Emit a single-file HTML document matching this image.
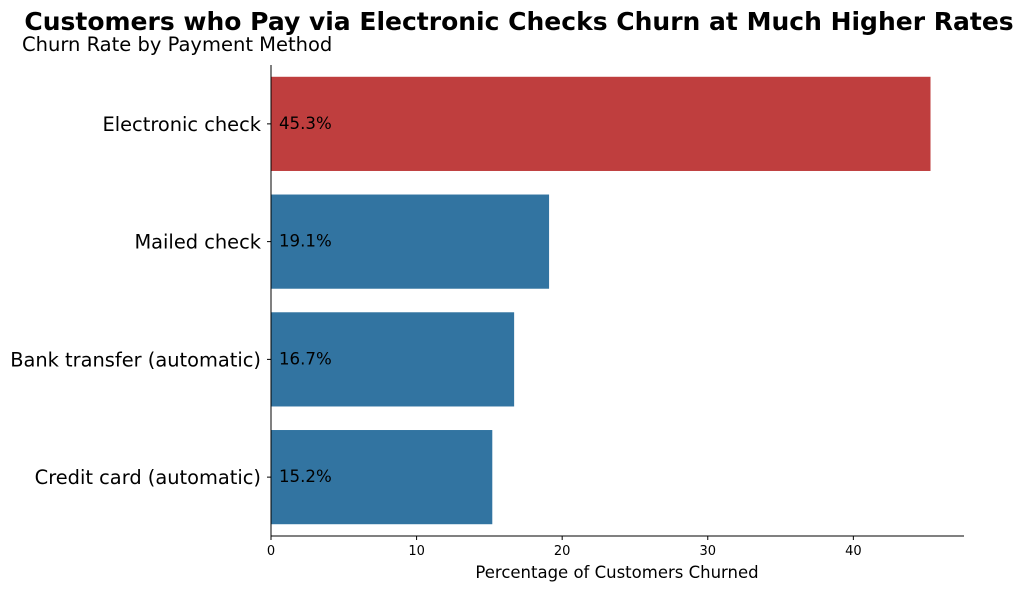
<!DOCTYPE html>
<html><head><meta charset="utf-8">
<style>
body{margin:0;background:#fff;font-family:"Liberation Sans","DejaVu Sans",sans-serif;}
svg text{font-family:"DejaVu Sans","Liberation Sans",sans-serif;}
</style></head>
<body>
<svg width="1025" height="590" xmlns="http://www.w3.org/2000/svg">
<text x="519" y="30" text-anchor="middle" font-size="25" font-weight="bold">Customers who Pay via Electronic Checks Churn at Much Higher Rates</text>
<text x="22" y="51" font-size="19.5">Churn Rate by Payment Method</text>
<g id="plot"></g>
<text x="617" y="578" text-anchor="middle" font-size="16.5">Percentage of Customers Churned</text>
</svg>
<script>
const categories=["Electronic check","Mailed check","Bank transfer (automatic)","Credit card (automatic)"];
const values=[45.3,19.1,16.7,15.2];
const labels=["45.3%","19.1%","16.7%","15.2%"];
const ticks=[0,10,20,30,40];
const colors=["#bf3e3e","#3274a1","#3274a1","#3274a1"];
const NS="http://www.w3.org/2000/svg";
const g=document.getElementById('plot');
const x0=271,xMax=47.6,x1=964,yTop=65,yBot=536;
const xs=v=>x0+v/xMax*(x1-x0);
const band=(yBot-yTop)/categories.length;
const yc=i=>yTop+band*(i+0.5);
function mk(t,a){const e=document.createElementNS(NS,t);for(const k in a)e.setAttribute(k,a[k]);g.appendChild(e);return e;}
categories.forEach((c,i)=>{
 const r=mk('rect',{x:x0,y:yc(i)-band*0.4,width:xs(values[i])-x0,height:band*0.8,fill:colors[i]});
 
 
 const t=mk('text',{x:279,y:yc(i)+5,'font-size':16.6});t.textContent=labels[i];
 
 
 const tk=mk('line',{x1:x0-4,x2:x0,y1:yc(i),y2:yc(i),stroke:'#000'});
 
 
 const yl=mk('text',{x:261,y:yc(i)+7,'text-anchor':'end','font-size':19.4});yl.textContent=c;
 
 
});
ticks.forEach(v=>{
 const tk=mk('line',{x1:xs(v),x2:xs(v),y1:yBot,y2:yBot+4,stroke:'#000'});
 
 
 const t=mk('text',{x:xs(v),y:yBot+19,'text-anchor':'middle','font-size':13});t.textContent=v;
 
 
});
const ax=mk('line',{x1:x0,x2:x0,y1:yTop,y2:yBot,stroke:'#000'});


const bx=mk('line',{x1:x0,x2:x1,y1:yBot,y2:yBot,stroke:'#000'});


</script>
</body></html>
